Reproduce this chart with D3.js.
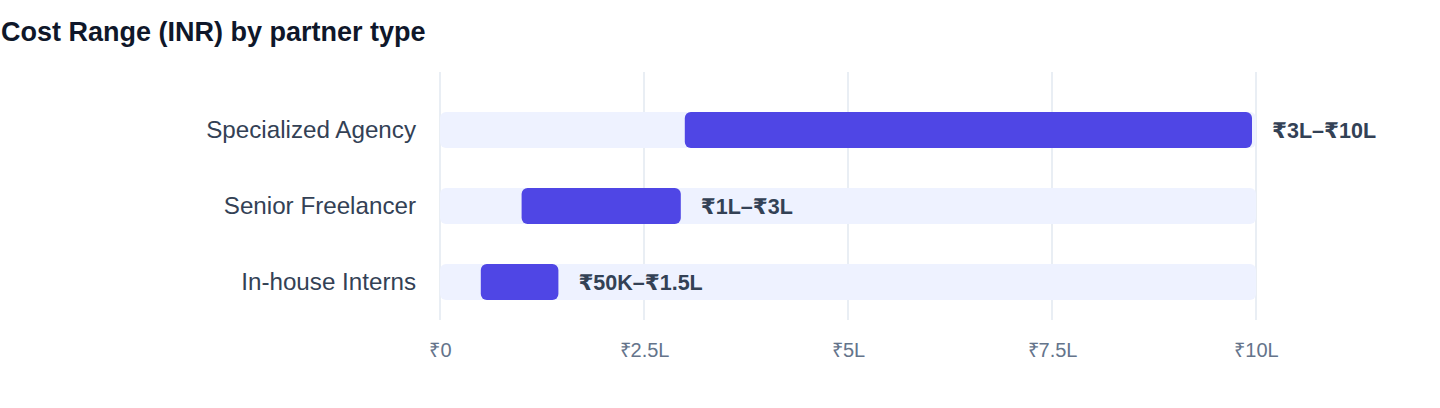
<html>
    <head>
        <style>
        body {
            margin: 0;
            background: #fff;
            font-family: "Liberation Sans", Arial, "DejaVu Sans", sans-serif;
        }
        .title {
            font-weight: bold;
            font-size: 27px;
            fill: #0f172a;
        }
        .grid line {
            stroke: #e2e8f0;
            stroke-width: 1.5;
        }
        .x .tick text {
            fill: #64748b;
            font-size: 20px;
        }
        .x .domain, .x .tick line {
            display: none;
        }
        .cat {
            fill: #334155;
            font-size: 24.2px;
        }
        .val {
            fill: #334155;
            font-size: 21.5px;
            font-weight: bold;
        }
        </style>
    </head>
    <body>
        <div id="chart"></div>
        <script src="https://d3js.org/d3.v7.min.js"></script>
        <script>

            let partners = ["Specialized Agency", "Senior Freelancer", "In-house Interns"]
            let costLow = [300000, 100000, 50000]
            let costHigh = [1000000, 300000, 150000]
            let rangeLabels = ["₹3L–₹10L", "₹1L–₹3L", "₹50K–₹1.5L"]
            let tickValues = [0, 250000, 500000, 750000, 1000000]
            let tickLabels = ["₹0", "₹2.5L", "₹5L", "₹7.5L", "₹10L"]
            let maxCost = 1000000

            let width = 1440
            let height = 408
            let margin = {top: 92, right: 184, bottom: 88, left: 440}

            let data = partners.map((p, i) => ({
                name: p, low: costLow[i], high: costHigh[i], label: rangeLabels[i]
            }))

            let svg = d3.select("#chart")
                .append("svg")
                .attr("width", width)
                .attr("height", height)

            svg.append("text")
                .attr("class", "title")
                .attr("x", 1)
                .attr("y", 41)
                .text("Cost Range (INR) by partner type")

            let x = d3.scaleLinear()
                .domain([0, maxCost])
                .range([margin.left, width - margin.right])

            let y = d3.scaleBand()
                .domain(partners)
                .range([margin.top, height - margin.bottom])
                .paddingInner(40 / 76)
                .paddingOuter(20 / 76)

            // vertical grid
            svg.append("g")
                .attr("class", "grid")
                .selectAll("line")
                .data(tickValues)
                .join("line")
                .attr("x1", d => x(d))
                .attr("x2", d => x(d))
                .attr("y1", margin.top - 20)
                .attr("y2", height - margin.bottom)

            let xAxis = d3.axisBottom(x)
                .tickValues(tickValues)
                .tickFormat((d, i) => tickLabels[i])
                .tickSize(0)
                .tickPadding(23)

            svg.append("g")
                .attr("class", "x axis")
                .attr("transform", `translate(0, ${height - margin.bottom})`)
                .call(xAxis)

            // background tracks
            svg.append("g")
                .selectAll("rect")
                .data(data)
                .join("rect")
                .attr("x", x(0))
                .attr("y", d => y(d.name))
                .attr("width", x(maxCost) - x(0))
                .attr("height", y.bandwidth())
                .attr("rx", 6)
                .style("fill", "#eef2ff")

            // range bars
            svg.append("g")
                .selectAll("rect")
                .data(data)
                .join("rect")
                .attr("x", d => x(d.low))
                .attr("y", d => y(d.name))
                .attr("width", d => x(d.high) - x(d.low) - 4)
                .attr("height", y.bandwidth())
                .attr("rx", 6)
                .style("fill", "#4f46e5")

            svg.append("g")
                .selectAll("text")
                .data(data)
                .join("text")
                .attr("class", "cat")
                .attr("x", x(0) - 24)
                .attr("y", d => y(d.name) + y.bandwidth() / 2)
                .attr("dy", "0.35em")
                .attr("text-anchor", "end")
                .text(d => d.name)

            svg.append("g")
                .selectAll("text")
                .data(data)
                .join("text")
                .attr("class", "val")
                .attr("x", d => x(d.high) + 16)
                .attr("y", d => y(d.name) + y.bandwidth() / 2)
                .attr("dy", "0.35em")
                .text(d => d.label)

        </script>
    </body>
</html>
